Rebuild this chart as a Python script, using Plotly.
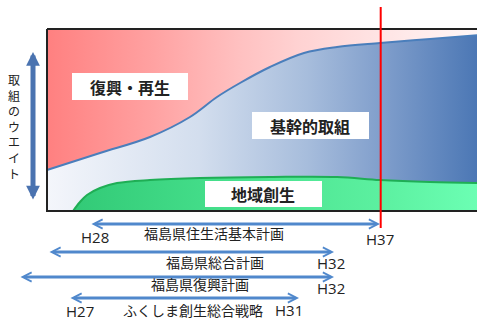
import plotly.graph_objects as go

# ---- data (diagram coordinates) ----
box_x = [47, 480]
box_top, box_bottom = 29, 211

base_curve_x = [47, 100, 150, 190, 217, 240, 270, 304, 337, 380, 430, 480]
base_curve_y = [170, 153, 137, 117, 97, 83, 67, 53, 47, 43, 39, 35]

local_curve_x = [73, 80, 87, 100, 117, 150, 200, 270, 337, 380, 430, 480]
local_curve_y = [211, 202, 195, 188, 183, 180, 178, 177, 177, 180, 182, 183]

region_labels = ["復興・再生", "基幹的取組", "地域創生"]

milestone_x = 380.7

plans = ["福島県住生活基本計画", "福島県総合計画", "福島県復興計画", "ふくしま創生総合戦略"]
plan_start = [90, 48, 19, 69]
plan_end = [380, 334, 334, 299]
plan_row_y = [224, 252, 277, 298]
start_labels = ["H28", "", "", "H27"]
end_labels = ["H37", "H32", "H32", "H31"]

axis_label = "取組のウエイト"

RED = [[0, "#ff8080"], [0.24, "#ffa1a1"], [0.44, "#ffc0c0"], [0.58, "#ffd2d2"], [0.77, "#ffe4e4"], [1, "#fff7f7"]]
BLUE = [[0, "#f4f6fb"], [0.35, "#d3deee"], [0.6, "#a7bddc"], [0.77, "#819fcc"], [1, "#4a76b4"]]
GREEN = [[0, "#2fc673"], [0.4, "#45df8b"], [0.77, "#5cf0a0"], [1, "#6cffb4"]]

CJK = "Noto Sans CJK JP"

fig = go.Figure()

def grad(cs):
    return dict(type="horizontal", colorscale=cs, start=box_x[0], stop=box_x[1])

# red region (top of box to base curve)
fig.add_trace(go.Scatter(x=box_x, y=[box_top, box_top], mode="lines", line=dict(width=0), hoverinfo="skip"))
fig.add_trace(go.Scatter(x=base_curve_x, y=base_curve_y, mode="lines", line=dict(width=0, shape="spline"),
                         fill="tonexty", fillgradient=grad(RED), hoverinfo="skip"))
# blue region (base curve to bottom)
fig.add_trace(go.Scatter(x=box_x, y=[box_bottom, box_bottom], mode="lines", line=dict(width=0), hoverinfo="skip"))
fig.add_trace(go.Scatter(x=base_curve_x, y=base_curve_y, mode="lines", line=dict(width=0, shape="spline"),
                         fill="tonexty", fillgradient=grad(BLUE), hoverinfo="skip"))
# green region
fig.add_trace(go.Scatter(x=box_x, y=[box_bottom, box_bottom], mode="lines", line=dict(width=0), hoverinfo="skip"))
fig.add_trace(go.Scatter(x=local_curve_x, y=local_curve_y, mode="lines",
                         line=dict(width=2, shape="spline", color="#1fae55"),
                         fill="tonexty", fillgradient=grad(GREEN), hoverinfo="skip"))
# base curve line
fig.add_trace(go.Scatter(x=base_curve_x, y=base_curve_y, mode="lines",
                         line=dict(width=2, shape="spline", color="#4a7ebb"), hoverinfo="skip"))
# box border
fig.add_trace(go.Scatter(x=[box_x[0], box_x[1], box_x[1], box_x[0], box_x[0]],
                         y=[box_top, box_top, box_bottom, box_bottom, box_top],
                         mode="lines", line=dict(width=2, color="#222222"), hoverinfo="skip"))
# milestone line
fig.add_trace(go.Scatter(x=[milestone_x, milestone_x], y=[7, 228], mode="lines",
                         line=dict(width=2, color="#ff0000"), hoverinfo="skip"))

shapes = []
annotations = []

# label boxes
label_boxes = [(72, 188, 73, 100), (252, 369, 112, 139), (205, 322, 181, 207)]
for (x0, x1, y0, y1), txt in zip(label_boxes, region_labels):
    shapes.append(dict(type="rect", x0=x0, x1=x1, y0=y0, y1=y1, xref="x", yref="y",
                       fillcolor="white", line=dict(width=0), layer="above"))
label_text_x = [130, 310, 263]
label_text_y = [87, 126, 194]
for t, tx, ty in zip(region_labels, label_text_x, label_text_y):
    annotations.append(dict(x=tx, y=ty, text="<b>" + t + "</b>", showarrow=False,
                            font=dict(family=CJK, size=16, color="#222222")))

# vertical double arrow
annotations.append(dict(x=33, y=52, ax=33, ay=201, axref="x", ayref="y", xref="x", yref="y",
                        text="", showarrow=True, arrowside="end+start", arrowhead=2, startarrowhead=2,
                        arrowwidth=5, arrowsize=0.55, startarrowsize=0.55, arrowcolor="#4a73b0",
                        standoff=0, startstandoff=0))
# vertical label (one character per line)
annotations.append(dict(x=14, y=126, text="<br>".join(axis_label), showarrow=False,
                        font=dict(family=CJK, size=12, color="#222222")))

# plan arrows
for xs, xe, yy in zip(plan_start, plan_end, plan_row_y):
    annotations.append(dict(x=xe, y=yy, ax=xs, ay=yy, axref="x", ayref="y", xref="x", yref="y",
                            text="", showarrow=True, arrowside="end+start", arrowhead=5, startarrowhead=5,
                            arrowwidth=3, arrowsize=0.6, startarrowsize=0.6, arrowcolor="#5088cc",
                            standoff=0, startstandoff=0))

plan_text_x = [214, 215, 200, 193]
plan_text_y = [233, 262, 284, 310]
for t, tx, ty in zip(plans, plan_text_x, plan_text_y):
    annotations.append(dict(x=tx, y=ty, text=t, showarrow=False,
                            font=dict(family=CJK, size=14, color="#222222")))

start_lab_x = [95, None, None, 80]
start_lab_y = [237, None, None, 311]
for t, tx, ty in zip(start_labels, start_lab_x, start_lab_y):
    if t:
        annotations.append(dict(x=tx, y=ty, text=t, showarrow=False,
                                font=dict(family="Open Sans", size=15, color="#222222")))
end_lab_x = [380, 331, 331, 289]
end_lab_y = [239, 263, 288, 310]
for t, tx, ty in zip(end_labels, end_lab_x, end_lab_y):
    annotations.append(dict(x=tx, y=ty, text=t, showarrow=False,
                            font=dict(family="Open Sans", size=15, color="#222222")))

fig.update_layout(
    width=477, height=322, margin=dict(l=0, r=0, t=0, b=0),
    paper_bgcolor="white", plot_bgcolor="white", showlegend=False,
    xaxis=dict(range=[0, 477], visible=False, fixedrange=True),
    yaxis=dict(range=[322, 0], visible=False, fixedrange=True),
    shapes=shapes, annotations=annotations,
)

fig.write_html("out.html")
